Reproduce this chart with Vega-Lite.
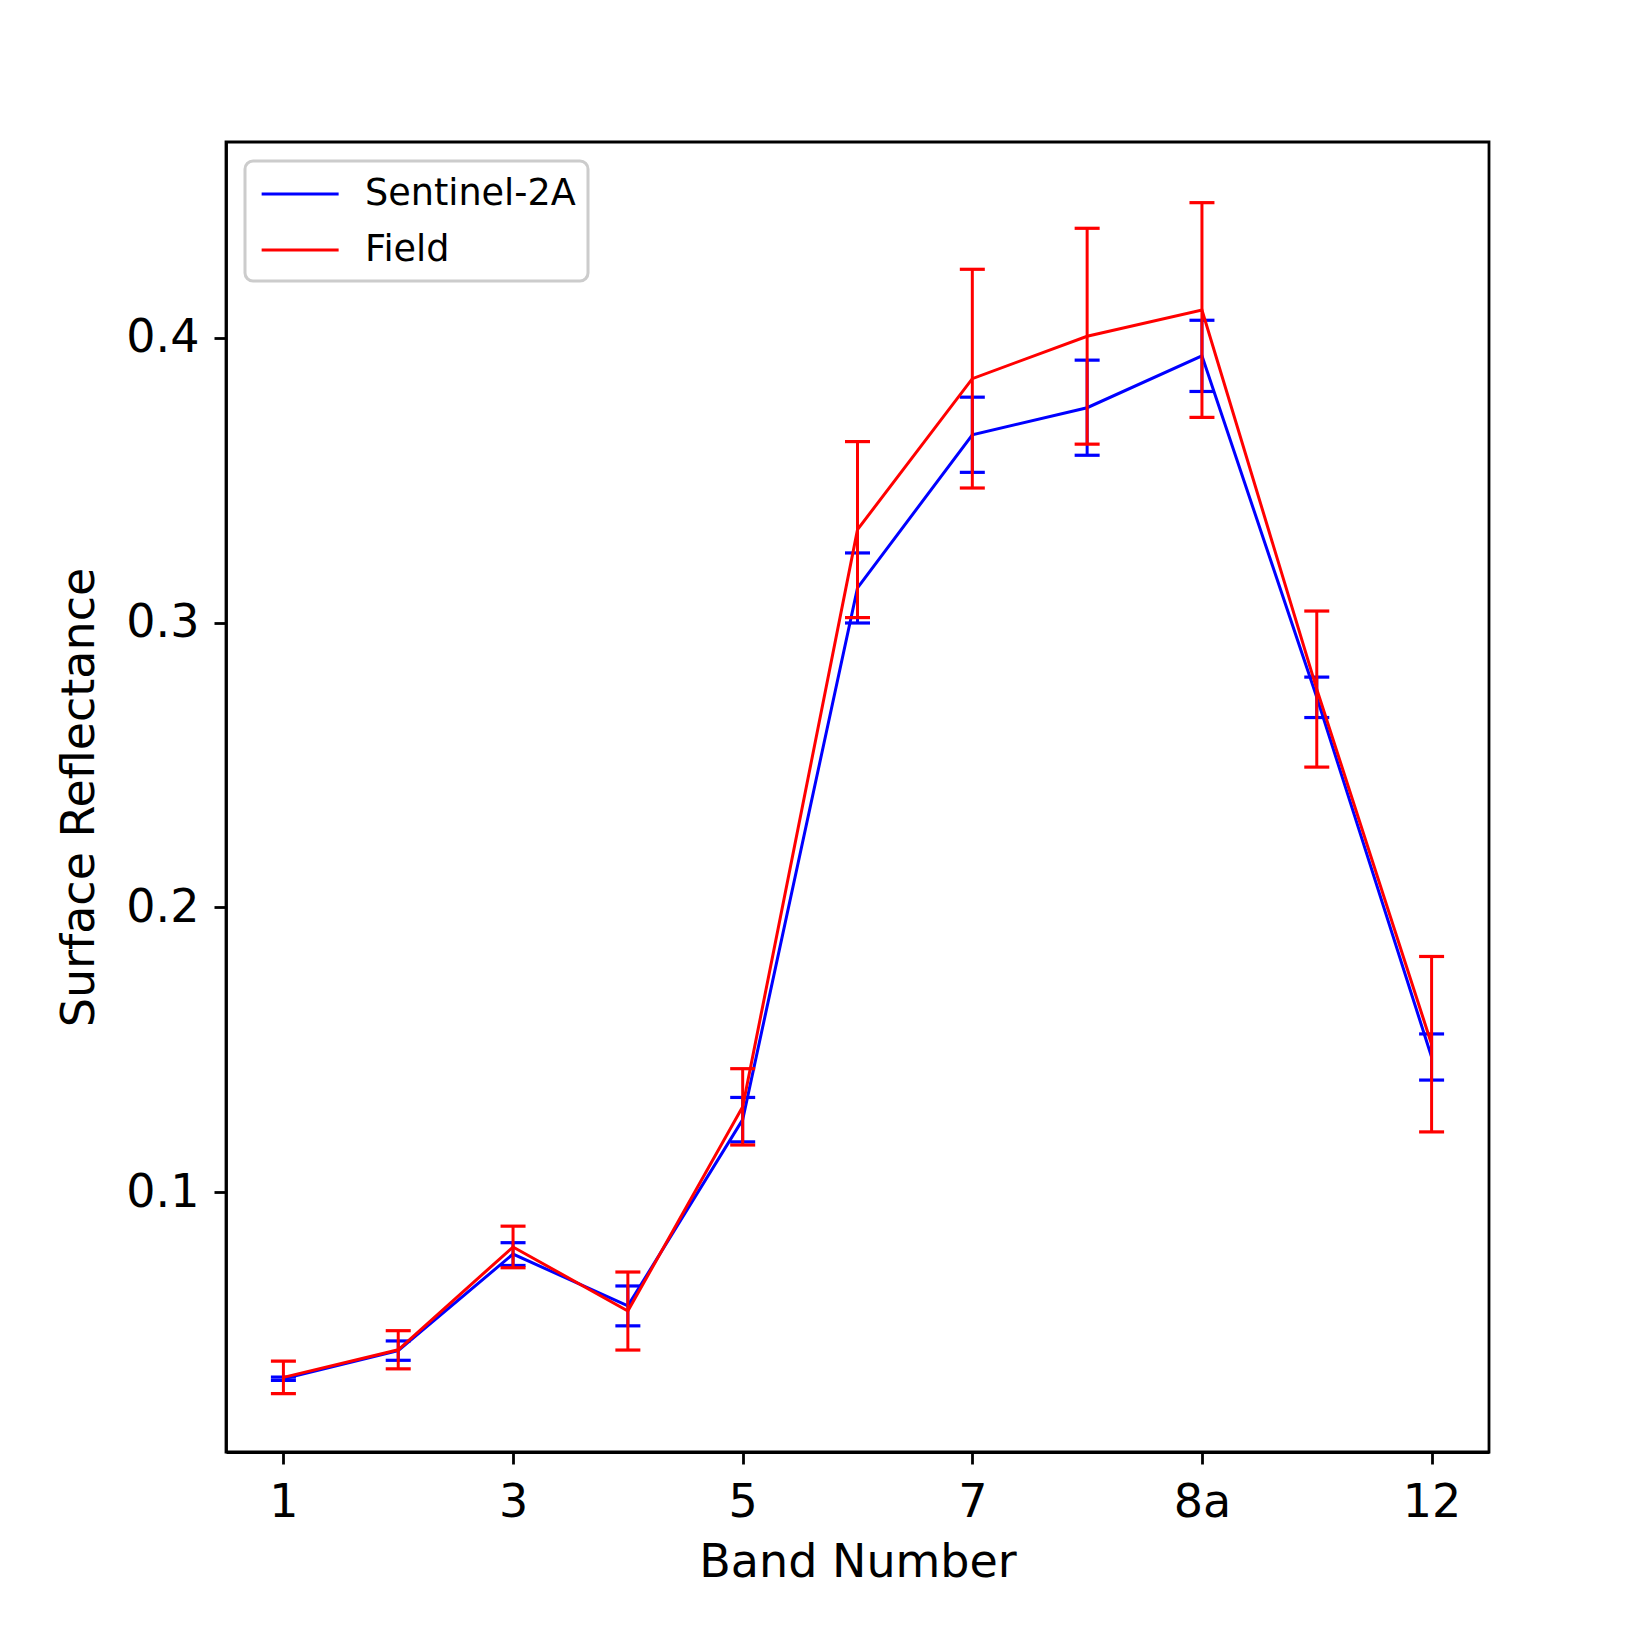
{
  "$schema": "https://vega.github.io/schema/vega-lite/v6.json",
  "autosize": {"type": "none"},
  "padding": {"left": 226, "top": 142, "right": 161, "bottom": 198},
  "width": 1263,
  "height": 1310,
  "background": "white",
  "config": {
    "font": "DejaVu Sans",
    "view": {"stroke": "black", "strokeWidth": 2.8},
    "tick": {"opacity": 1},
    "axis": {
      "grid": false,
      "domainColor": "black",
      "domainWidth": 2.8,
      "tickColor": "black",
      "tickWidth": 2.8,
      "tickSize": 12,
      "labelFont": "DejaVu Sans",
      "labelFontSize": 46,
      "labelColor": "black",
      "titleFont": "DejaVu Sans",
      "titleFontSize": 46,
      "titleFontWeight": "normal",
      "titleColor": "black"
    }
  },
  "data": {
    "values": [
      {"band": "1", "series": "Sentinel-2A", "mean": 0.0345, "err": 0.0006},
      {"band": "2", "series": "Sentinel-2A", "mean": 0.0444, "err": 0.0034},
      {"band": "3", "series": "Sentinel-2A", "mean": 0.0783, "err": 0.0040},
      {"band": "4", "series": "Sentinel-2A", "mean": 0.0601, "err": 0.0070},
      {"band": "5", "series": "Sentinel-2A", "mean": 0.1255, "err": 0.0078},
      {"band": "6", "series": "Sentinel-2A", "mean": 0.3122, "err": 0.0123},
      {"band": "7", "series": "Sentinel-2A", "mean": 0.3660, "err": 0.0132},
      {"band": "8", "series": "Sentinel-2A", "mean": 0.3755, "err": 0.0167},
      {"band": "8a", "series": "Sentinel-2A", "mean": 0.3937, "err": 0.0125},
      {"band": "11", "series": "Sentinel-2A", "mean": 0.2738, "err": 0.0071},
      {"band": "12", "series": "Sentinel-2A", "mean": 0.1475, "err": 0.0081},
      {"band": "1", "series": "Field", "mean": 0.0350, "err": 0.0057},
      {"band": "2", "series": "Field", "mean": 0.0447, "err": 0.0067},
      {"band": "3", "series": "Field", "mean": 0.0808, "err": 0.0073},
      {"band": "4", "series": "Field", "mean": 0.0583, "err": 0.0137},
      {"band": "5", "series": "Field", "mean": 0.1300, "err": 0.0134},
      {"band": "6", "series": "Field", "mean": 0.3327, "err": 0.0309},
      {"band": "7", "series": "Field", "mean": 0.3857, "err": 0.0384},
      {"band": "8", "series": "Field", "mean": 0.4006, "err": 0.0379},
      {"band": "8a", "series": "Field", "mean": 0.4098, "err": 0.0377},
      {"band": "11", "series": "Field", "mean": 0.2767, "err": 0.0274},
      {"band": "12", "series": "Field", "mean": 0.1520, "err": 0.0308}
    ]
  },
  "encoding": {
    "x": {
      "field": "band",
      "type": "ordinal",
      "scale": {"type": "point", "padding": 0.5, "domain": ["1", "2", "3", "4", "5", "6", "7", "8", "8a", "11", "12"]},
      "axis": {"values": ["1", "3", "5", "7", "8a", "12"], "labelAngle": 0, "labelPadding": 16, "title": "Band Number", "titlePadding": 15}
    },
    "y": {
      "field": "mean",
      "type": "quantitative",
      "scale": {"domain": [0.0088, 0.4688], "nice": false, "zero": false},
      "axis": {"values": [0.1, 0.2, 0.3, 0.4], "format": ".1f", "labelPadding": 15, "title": "Surface Reflectance", "titlePadding": 22}
    }
  },
  "layer": [
    {
      "transform": [{"filter": "datum.series === 'Sentinel-2A'"}],
      "mark": {"type": "errorbar", "color": "#0000ff", "thickness": 3, "opacity": 1, "ticks": {"size": 25, "thickness": 3.2, "opacity": 1}},
      "encoding": {"yError": {"field": "err"}}
    },
    {
      "transform": [{"filter": "datum.series === 'Sentinel-2A'"}],
      "mark": {"type": "line", "strokeWidth": 3},
      "encoding": {
        "color": {
          "field": "series",
          "type": "nominal",
          "scale": {"domain": ["Sentinel-2A", "Field"], "range": ["#0000ff", "#ff0000"]},
          "legend": {
            "title": null,
            "orient": "top-left",
            "offset": 19,
            "padding": 12,
            "strokeColor": "#cccccc",
            "cornerRadius": 8,
            "fillColor": "white",
            "symbolType": "M-0.85,0H3.15",
            "symbolSize": 1482,
            "symbolStrokeWidth": 3,
            "labelFont": "DejaVu Sans",
            "labelFontSize": 36.6,
            "labelColor": "black",
            "labelLimit": 500,
            "labelOffset": 66,
            "rowPadding": 16,
            "encode": {"legend": {"update": {"strokeWidth": {"value": 3}}}}
          }
        }
      }
    },
    {
      "transform": [{"filter": "datum.series === 'Field'"}],
      "mark": {"type": "errorbar", "color": "#ff0000", "thickness": 3, "opacity": 1, "ticks": {"size": 25, "thickness": 3.2, "opacity": 1}},
      "encoding": {"yError": {"field": "err"}}
    },
    {
      "transform": [{"filter": "datum.series === 'Field'"}],
      "mark": {"type": "line", "strokeWidth": 3},
      "encoding": {
        "color": {
          "field": "series",
          "type": "nominal",
          "scale": {"domain": ["Sentinel-2A", "Field"], "range": ["#0000ff", "#ff0000"]},
          "legend": {
            "title": null,
            "orient": "top-left",
            "offset": 19,
            "padding": 12,
            "strokeColor": "#cccccc",
            "cornerRadius": 8,
            "fillColor": "white",
            "symbolType": "M-0.85,0H3.15",
            "symbolSize": 1482,
            "symbolStrokeWidth": 3,
            "labelFont": "DejaVu Sans",
            "labelFontSize": 36.6,
            "labelColor": "black",
            "labelLimit": 500,
            "labelOffset": 66,
            "rowPadding": 16,
            "encode": {"legend": {"update": {"strokeWidth": {"value": 3}}}}
          }
        }
      }
    }
  ]
}
